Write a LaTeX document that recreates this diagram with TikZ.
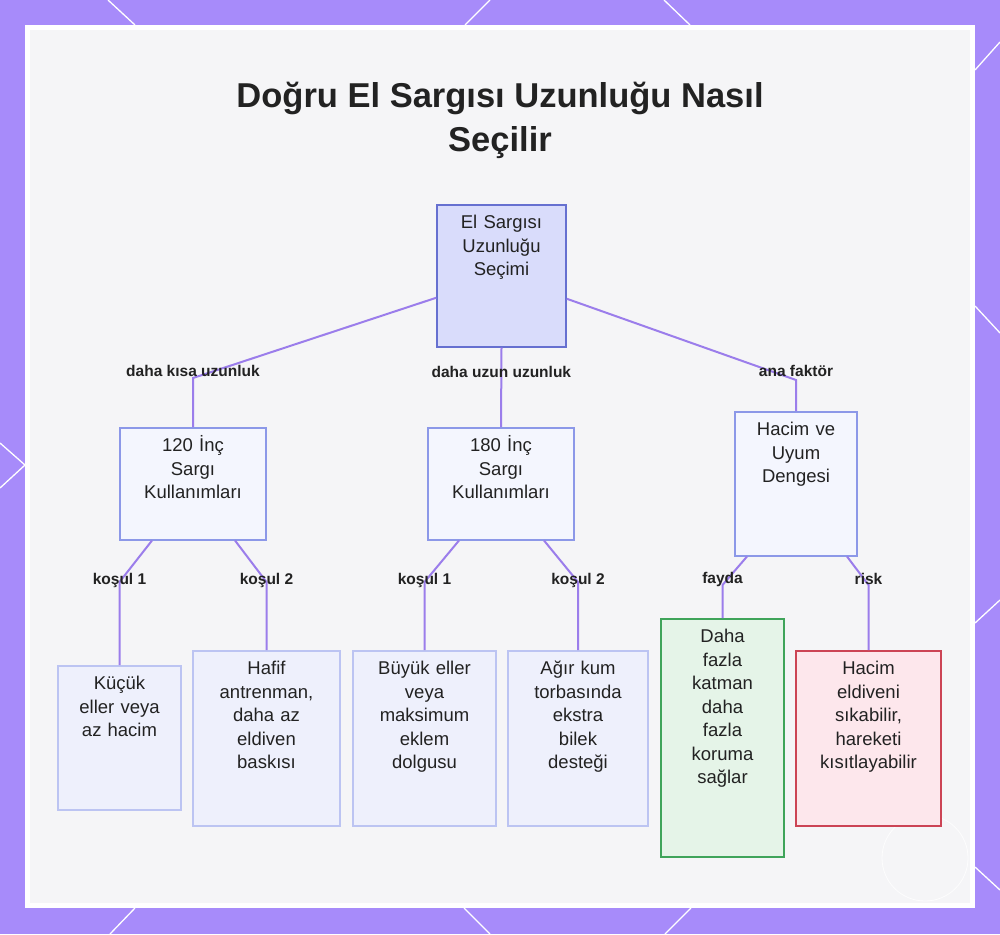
\documentclass[tikz,border=0pt]{standalone}
\usepackage{fontspec}
\setmainfont{Liberation Sans}

\definecolor{bgpurple}{RGB}{167,139,250}
\definecolor{panelgray}{RGB}{245,245,247}
\definecolor{edgepurple}{RGB}{155,125,235}
\definecolor{rootfill}{RGB}{217,220,251}
\definecolor{rootline}{RGB}{102,112,208}
\definecolor{midfill}{RGB}{244,246,254}
\definecolor{midline}{RGB}{140,152,232}
\definecolor{leaffill}{RGB}{238,240,252}
\definecolor{leafline}{RGB}{188,196,242}
\definecolor{goodfill}{RGB}{229,244,232}
\definecolor{goodline}{RGB}{63,164,90}
\definecolor{badfill}{RGB}{253,231,236}
\definecolor{badline}{RGB}{204,68,85}
\definecolor{ink}{RGB}{34,34,34}

\tikzset{
  box/.style={draw, line width=1.5pt, inner sep=0pt, anchor=north, align=center,
    text=ink, text height=24pt, font=\fontsize{18.5}{23.5}\selectfont},
  rootbox/.style={box, fill=rootfill, draw=rootline},
  midbox/.style={box, fill=midfill, draw=midline},
  leafbox/.style={box, fill=leaffill, draw=leafline},
  goodbox/.style={box, fill=goodfill, draw=goodline},
  badbox/.style={box, fill=badfill, draw=badline},
  link/.style={draw=edgepurple, line width=2pt},
  lbl/.style={text=ink, font=\bfseries\fontsize{15.5}{18}\selectfont},
  ray/.style={draw=white, line width=1.3pt},
}

\begin{document}
\begin{tikzpicture}[x=1pt, y=-1pt]
  \useasboundingbox (0,0) rectangle (1000,934);
  \fill[bgpurple] (0,0) rectangle (1000,934);
  \foreach \xa/\ya/\xb/\yb in {108/0/135/25, 490/0/465/25, 664/0/690/25,
      135/908/110/934, 464/908/490/934, 691/908/665/934,
      0/443/25/465, 0/488/25/465,
      975/70/1000/42, 975/306/1000/333, 975/623/1000/600, 975/867/1000/890}
    \draw[ray] (\xa,\ya) -- (\xb,\yb);
  \fill[white] (25,25) rectangle (975,908);
  \fill[panelgray] (30,30) rectangle (970,903);
  \draw[white, line width=0.8pt, opacity=0.8] (925,858) circle (43);

  \node[text=ink, align=center, font=\bfseries\fontsize{34.5}{44}\selectfont] (title) at (500,120)
    {Doğru El Sargısı Uzunluğu Nasıl\\Seçilir};

  \node[rootbox, text width=129pt, text depth=118pt] (root) at (501.5,204) {El Sargısı\\Uzunluğu\\Seçimi};

  \node[midbox, text width=146pt, text depth=88pt] (u120) at (193,427) {120 İnç\\Sargı\\Kullanımları};
  \node[midbox, text width=146pt, text depth=88pt] (u180) at (501,427) {180 İnç\\Sargı\\Kullanımları};
  \node[midbox, text width=122pt, text depth=120pt] (denge) at (796,411) {Hacim ve\\Uyum\\Dengesi};

  \node[leafbox, text width=123pt, text depth=120pt] (kucuk) at (119.5,665) {Küçük\\eller veya\\az hacim};
  \node[leafbox, text width=147pt, text depth=151pt] (hafif) at (266.5,650) {Hafif\\antrenman,\\daha az\\eldiven\\baskısı};
  \node[leafbox, text width=143pt, text depth=151pt] (buyuk) at (424.5,650) {Büyük eller\\veya\\maksimum\\eklem\\dolgusu};
  \node[leafbox, text width=140pt, text depth=151pt] (agir) at (578,650) {Ağır kum\\torbasında\\ekstra\\bilek\\desteği};
  \node[goodbox, text width=123pt, text depth=214pt] (fayda) at (722.5,618) {Daha\\fazla\\katman\\daha\\fazla\\koruma\\sağlar};
  \node[badbox, text width=145pt, text depth=151pt] (risk) at (868.5,650) {Hacim\\eldiveni\\sıkabilir,\\hareketi\\kısıtlayabilir};

  \draw[link] ([yshift=-22pt]root.west) -- ([yshift=49pt]u120.north)
    node[lbl, yshift=7pt] {daha kısa uzunluk} -- (u120.north);
  \draw[link] (root.south) -- node[lbl, pos=0.31] {daha uzun uzunluk} (u180.north);
  \draw[link] ([yshift=-23pt]root.east) -- ([yshift=31pt]denge.north)
    node[lbl, yshift=9pt] {ana faktör} -- (denge.north);

  \draw[link] ([xshift=-41pt]u120.south) -- ([yshift=83pt]kucuk.north)
    node[lbl, yshift=2pt] {koşul 1} -- (kucuk.north);
  \draw[link] ([xshift=42pt]u120.south) -- ([yshift=68pt]hafif.north)
    node[lbl, yshift=2pt] {koşul 2} -- (hafif.north);
  \draw[link] ([xshift=-42pt]u180.south) -- ([yshift=68pt]buyuk.north)
    node[lbl, yshift=2pt] {koşul 1} -- (buyuk.north);
  \draw[link] ([xshift=43pt]u180.south) -- ([yshift=68pt]agir.north)
    node[lbl, yshift=2pt] {koşul 2} -- (agir.north);
  \draw[link] ([xshift=-49pt]denge.south) -- ([yshift=33pt]fayda.north)
    node[lbl, yshift=6pt] {fayda} -- (fayda.north);
  \draw[link] ([xshift=51pt]denge.south) -- ([yshift=65pt]risk.north)
    node[lbl, yshift=6pt] {risk} -- (risk.north);
\end{tikzpicture}
\end{document}
